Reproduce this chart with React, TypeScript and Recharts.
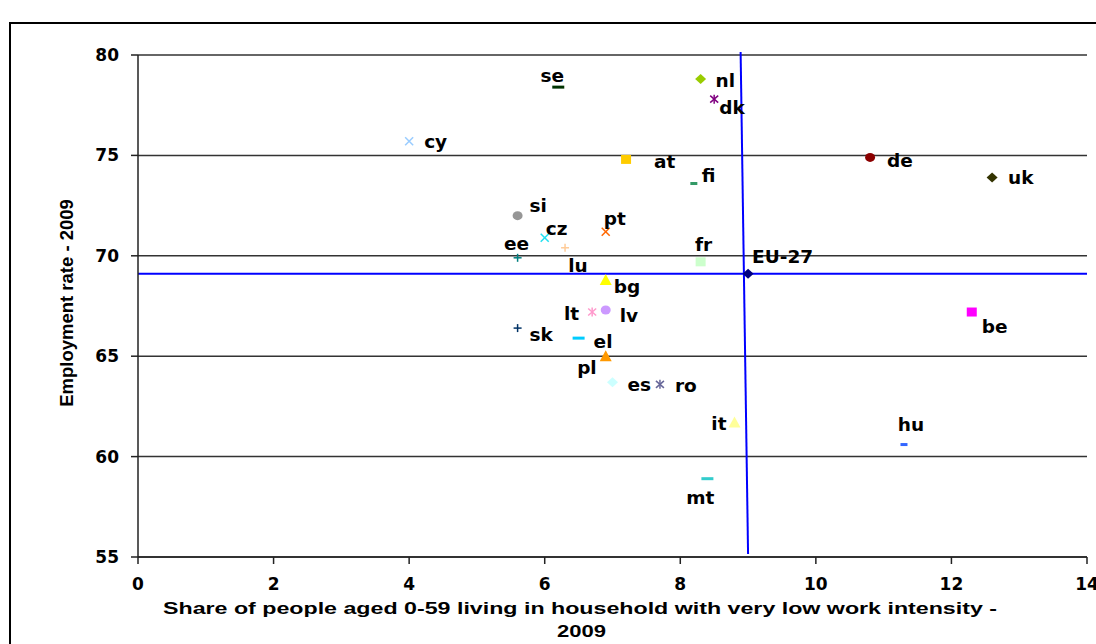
import React from 'react'
import { ScatterChart, Scatter, XAxis, YAxis, CartesianGrid, ReferenceLine } from 'recharts'

// employment rate vs. very low work intensity, 2009
const countries = ['cy', 'se', 'nl', 'dk', 'at', 'fi', 'de', 'uk', 'si', 'pt', 'cz', 'lu', 'ee', 'fr', 'EU-27', 'bg', 'lt', 'lv', 'sk', 'el', 'pl', 'es', 'ro', 'it', 'mt', 'hu', 'be']
const lowWorkIntensity = [4.0, 6.2, 8.3, 8.5, 7.2, 8.2, 10.8, 12.6, 5.6, 6.9, 6.0, 6.3, 5.6, 8.3, 9.0, 6.9, 6.7, 6.9, 5.6, 6.5, 6.9, 7.0, 7.7, 8.8, 8.4, 11.3, 12.3]
const employmentRate = [75.7, 78.4, 78.8, 77.8, 74.8, 73.6, 74.9, 73.9, 72.0, 71.2, 70.9, 70.4, 69.9, 69.7, 69.1, 68.8, 67.2, 67.3, 66.4, 65.9, 65.0, 63.7, 63.6, 61.7, 58.9, 60.6, 67.2]

const xTicks = [0, 2, 4, 6, 8, 10, 12, 14]
const yTicks = [55, 60, 65, 70, 75, 80]

// EU-27 average lines (the vertical one leans a little in the original)
const euRate = 69.1
const euVerticalX = [8.89, 9.0]
const euVerticalY = [80.15, 55.15]

const data = countries.map((c, i) => ({ code: c, x: lowWorkIntensity[i], y: employmentRate[i] }))

const markers: Record<string, { kind: string; color: string; w?: number }> = {
  cy: { kind: 'x', color: '#99ccff' },
  se: { kind: 'dash', color: '#003300', w: 12 },
  nl: { kind: 'diamond', color: '#99cc00' },
  dk: { kind: 'asterisk', color: '#800080' },
  at: { kind: 'square', color: '#ffcc00' },
  fi: { kind: 'dash', color: '#339966', w: 7 },
  de: { kind: 'circle', color: '#8b0000' },
  uk: { kind: 'diamond', color: '#333300' },
  si: { kind: 'circle', color: '#969696' },
  pt: { kind: 'x', color: '#ff6600' },
  cz: { kind: 'x', color: '#22e0f0' },
  lu: { kind: 'plus', color: '#ffcc99' },
  ee: { kind: 'plus', color: '#008080' },
  fr: { kind: 'square', color: '#ccffcc' },
  'EU-27': { kind: 'diamond', color: '#000080' },
  bg: { kind: 'triangle', color: '#ffff00' },
  lt: { kind: 'asterisk', color: '#ff99cc' },
  lv: { kind: 'circle', color: '#cc99ff' },
  sk: { kind: 'plus', color: '#003366' },
  el: { kind: 'dash', color: '#00ccff', w: 12 },
  pl: { kind: 'triangle', color: '#ff9900' },
  es: { kind: 'diamond', color: '#ccffff' },
  ro: { kind: 'asterisk', color: '#666699' },
  it: { kind: 'triangle', color: '#ffff99' },
  mt: { kind: 'dash', color: '#33cccc', w: 12 },
  hu: { kind: 'dash', color: '#3366ff', w: 7 },
  be: { kind: 'square', color: '#ff00ff' },
}

// label placement: anchor, dx, dy from the marker
const labelPos: Record<string, [string, number, number]> = {
  cy: ['start', 15, 0], se: ['middle', -6, -12], nl: ['start', 15, 1], dk: ['start', 5, 8],
  at: ['start', 28, 2], fi: ['start', 8, -8], de: ['start', 17, 3], uk: ['start', 16, 0],
  si: ['start', 12, -10], pt: ['middle', 9, -13], cz: ['start', 1, -9], lu: ['middle', 13, 18],
  ee: ['middle', -1, -14], fr: ['middle', 3, -17], 'EU-27': ['start', 4, -17], bg: ['start', 8, 7],
  lt: ['end', -13, 1], lv: ['start', 14, 5], sk: ['start', 12, 6], el: ['start', 15, 3],
  pl: ['end', -9, 11], es: ['start', 15, 2], ro: ['start', 15, 1], it: ['end', -8, 1],
  mt: ['middle', -7, 19], hu: ['middle', 7, -20], be: ['start', 10, 14],
}

const tickFont = { fontFamily: 'DejaVu Sans', fontWeight: 'bold', fontSize: 17, fill: '#000' }

function Marker({ cx, cy, kind, color, w }: any) {
  switch (kind) {
    case 'x':
      return (
        <g stroke={color} strokeWidth={1.5}>
          <line x1={cx - 4} y1={cy - 4} x2={cx + 4} y2={cy + 4} />
          <line x1={cx - 4} y1={cy + 4} x2={cx + 4} y2={cy - 4} />
        </g>
      )
    case 'plus':
      return (
        <g stroke={color} strokeWidth={1.5}>
          <line x1={cx - 4} y1={cy} x2={cx + 4} y2={cy} />
          <line x1={cx} y1={cy - 4} x2={cx} y2={cy + 4} />
        </g>
      )
    case 'asterisk':
      return (
        <g stroke={color} strokeWidth={1.5}>
          <line x1={cx - 4} y1={cy - 3.5} x2={cx + 4} y2={cy + 3.5} />
          <line x1={cx - 4} y1={cy + 3.5} x2={cx + 4} y2={cy - 3.5} />
          <line x1={cx} y1={cy - 4.5} x2={cx} y2={cy + 4.5} />
        </g>
      )
    case 'dash':
      return <rect x={cx - w / 2} y={cy - 1.5} width={w} height={3} fill={color} />
    case 'diamond':
      return <polygon points={`${cx},${cy - 5} ${cx + 5.5},${cy} ${cx},${cy + 5} ${cx - 5.5},${cy}`} fill={color} />
    case 'square':
      return <rect x={cx - 5} y={cy - 4.5} width={10} height={9} fill={color} />
    case 'circle':
      return <ellipse cx={cx} cy={cy} rx={5} ry={4.5} fill={color} />
    case 'triangle':
      return <polygon points={`${cx},${cy - 6} ${cx + 6},${cy + 5} ${cx - 6},${cy + 5}`} fill={color} />
    default:
      return null
  }
}

function CountryPoint(props: any) {
  const { cx, cy, payload } = props
  const m = markers[payload.code]
  const [anchor, dx, dy] = labelPos[payload.code]
  return (
    <g>
      <Marker cx={cx} cy={cy} kind={m.kind} color={m.color} w={m.w} />
      <text
        x={cx + dx}
        y={cy + dy}
        textAnchor={anchor}
        dominantBaseline="central"
        fontFamily="DejaVu Sans"
        fontWeight="bold"
        fontSize={18.5}
        fill="#000"
      >
        {payload.code}
      </text>
    </g>
  )
}

export default function App() {
  return (
    <div style={{ position: 'fixed', left: 0, top: 0, width: 1096, height: 644, overflow: 'hidden', background: '#fff' }}>
      <div style={{ position: 'absolute', left: 9, top: 22, width: 1200, height: 800, border: '2px solid #000' }} />
      <div style={{ position: 'absolute', left: 0, top: 0 }}>
        <ScatterChart width={1096} height={644} margin={{ top: 55, right: 9, left: 78, bottom: 57 }}>
          <CartesianGrid vertical={false} stroke="#333" strokeWidth={1.5} />
          <XAxis
            type="number"
            dataKey="x"
            domain={[0, 14]}
            ticks={xTicks}
            interval={0}
            height={30}
            tickSize={7}
            tickMargin={14}
            stroke="#222"
            strokeWidth={1.5}
            tick={tickFont}
          />
          <YAxis
            type="number"
            dataKey="y"
            domain={[55, 80]}
            ticks={yTicks}
            interval={0}
            width={60}
            tickSize={7}
            tickMargin={12}
            stroke="#222"
            strokeWidth={1.5}
            tick={tickFont}
          />
          <ReferenceLine y={euRate} stroke="#0000ff" strokeWidth={2} ifOverflow="visible" />
          <ReferenceLine
            segment={[
              { x: euVerticalX[0], y: euVerticalY[0] },
              { x: euVerticalX[1], y: euVerticalY[1] },
            ]}
            stroke="#0000ff"
            strokeWidth={2}
            ifOverflow="visible"
          />
          <Scatter data={data} shape={CountryPoint} isAnimationActive={false} />
        </ScatterChart>
      </div>
      <svg width={1096} height={644} style={{ position: 'absolute', left: 0, top: 0, pointerEvents: 'none' }}>
        <text
          transform="translate(73, 303) rotate(-90)"
          textAnchor="middle"
          fontFamily="Liberation Sans, Arial, sans-serif"
          fontWeight="bold"
          fontSize={18.5}
          fill="#000"
        >
          Employment rate - 2009
        </text>
        <text
          x={163}
          y={614}
          textLength={834}
          lengthAdjust="spacingAndGlyphs"
          fontFamily="Liberation Sans, Arial, sans-serif"
          fontWeight="bold"
          fontSize={16}
          fill="#000"
        >
          Share of people aged 0-59 living in household with very low work intensity -
        </text>
        <text
          x={557}
          y={637}
          textLength={49}
          lengthAdjust="spacingAndGlyphs"
          fontFamily="Liberation Sans, Arial, sans-serif"
          fontWeight="bold"
          fontSize={16}
          fill="#000"
        >
          2009
        </text>
      </svg>
    </div>
  )
}
